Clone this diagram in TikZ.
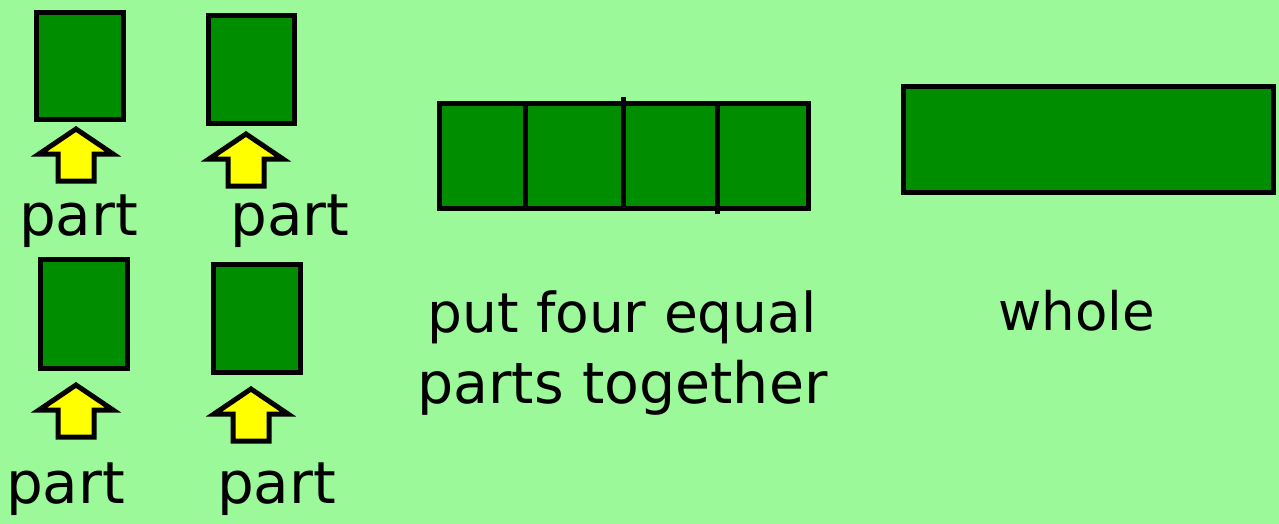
\documentclass[tikz,border=0pt]{standalone}
\usepackage{fontspec}
\setmainfont{DejaVu Sans}
\definecolor{bg}{HTML}{9CF99A}
\definecolor{boxgreen}{HTML}{008E00}
\definecolor{arrowyellow}{HTML}{FFFF00}
\begin{document}
\begin{tikzpicture}[x=1pt,y=-1pt,
  partbox/.style={draw=black,fill=boxgreen,line width=5pt,inner sep=0pt,outer sep=0pt,rectangle},
  arrowshape/.style={draw=black,fill=arrowyellow,line width=5pt,line join=miter},
  lbl/.style={inner sep=0pt,anchor=base,font=\fontsize{54}{64}\selectfont},
  uparrow/.pic={\path[arrowshape] (0,0) -- (37,25) -- (18,25) -- (18,52) -- (-18,52) -- (-18,25) -- (-37,25) -- cycle;}
]
\fill[bg] (0,0) rectangle (1279,524);
\useasboundingbox (0,0) rectangle (1279,524);

% four single parts
\node[partbox,minimum width=87pt,minimum height=107pt] (p1) at (80,66) {};
\node[partbox,minimum width=86pt,minimum height=108pt] (p2) at (251.5,69.5) {};
\node[partbox,minimum width=87pt,minimum height=109pt] (p3) at (84,314) {};
\node[partbox,minimum width=87pt,minimum height=108pt] (p4) at (257,318.5) {};

% arrows
\pic at (76,129) {uparrow};
\pic at (246,134) {uparrow};
\pic at (76,385) {uparrow};
\pic at (251,389) {uparrow};

% labels
\node[lbl,font=\fontsize{58}{68}\selectfont] (t1) at (78.5,235) {part};
\node[lbl,font=\fontsize{58}{68}\selectfont] (t2) at (290,235) {part};
\node[lbl,font=\fontsize{58}{68}\selectfont] (t3) at (65.5,503) {part};
\node[lbl,font=\fontsize{58}{68}\selectfont] (t4) at (276.5,503) {part};

% four equal parts together
\node[partbox,minimum width=369pt,minimum height=105pt] (four) at (624,156) {};
\coordinate (d1t) at (525,103); \coordinate (d1b) at (525,209);
\coordinate (d2t) at (623,97);  \coordinate (d2b) at (623,209);
\coordinate (d3t) at (717,103); \coordinate (d3b) at (717,214);
\draw[line width=5pt] (d1t) -- (d1b) (d2t) -- (d2b) (d3t) -- (d3b);
\node[lbl,font=\fontsize{55}{66}\selectfont] (t5) at (622,332) {put four equal};
\node[lbl,font=\fontsize{57}{68}\selectfont] (t6) at (622.5,403) {parts together};

% whole
\node[partbox,minimum width=370pt,minimum height=106pt] (whole) at (1088.5,139.5) {};
\node[lbl,font=\fontsize{53}{64}\selectfont] (t7) at (1076.5,330) {whole};
\end{tikzpicture}
\end{document}
